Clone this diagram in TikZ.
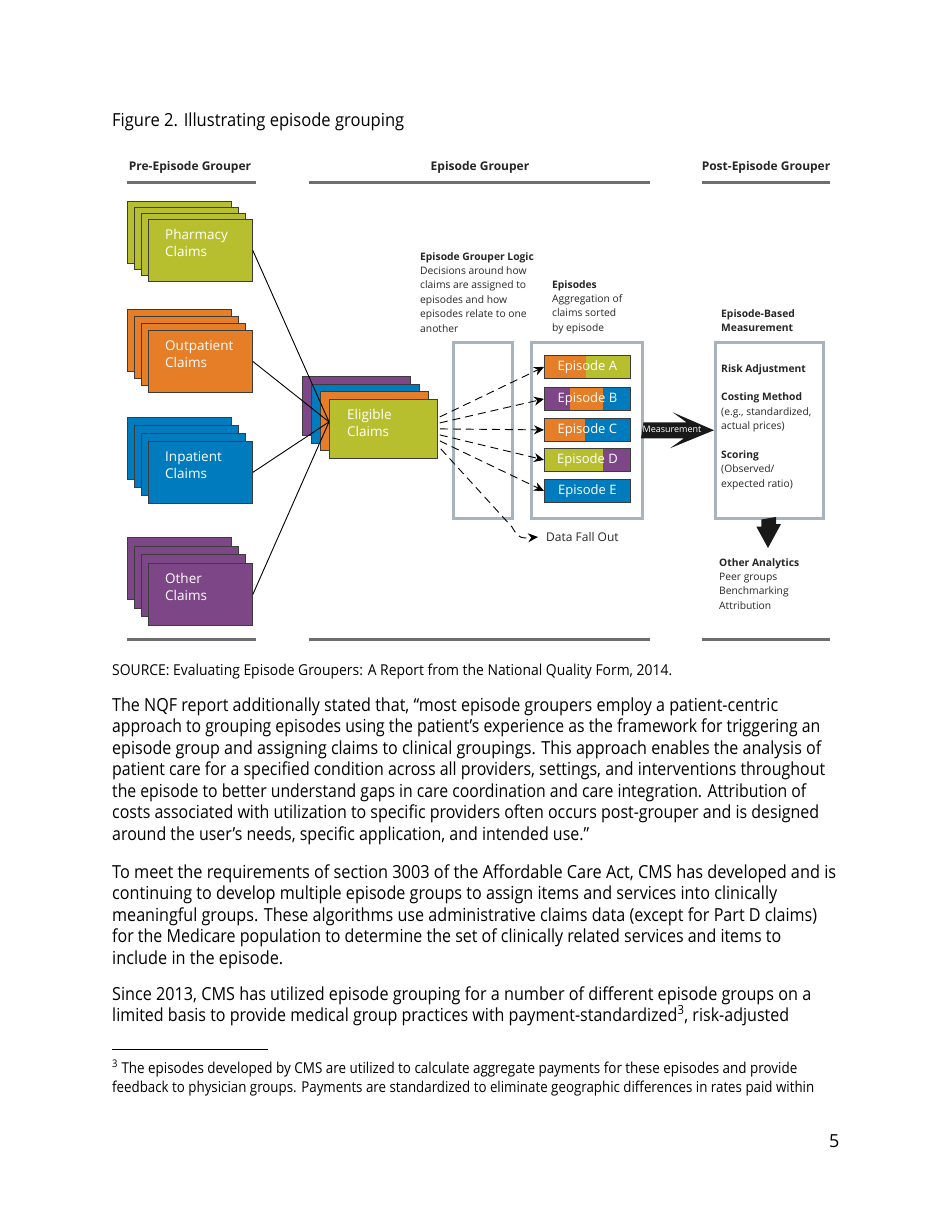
\documentclass[tikz,border=0pt]{standalone}
\usepackage{fontspec}
\setmainfont{Open Sans}
\usepackage{graphicx}
\usetikzlibrary{arrows.meta,calc}
\definecolor{cGreen}{RGB}{183,191,47}
\definecolor{cOrange}{RGB}{229,126,38}
\definecolor{cBlue}{RGB}{0,124,190}
\definecolor{cPurple}{RGB}{125,70,135}
\definecolor{cBorder}{RGB}{60,60,60}
\definecolor{cBoxGray}{RGB}{168,180,189}
\definecolor{cBar}{RGB}{109,110,113}
\newcommand\cardstack[6]{%
  \node[card,fill=#5] (#1a) at (#2,#3) {};
  \node[card,fill=#5] (#1b) at ({#2+7},{#3+#4}) {};
  \node[card,fill=#5] (#1c) at ({#2+14},{#3+2*#4}) {};
  \node[card,fill=#5] (#1d) at ({#2+21},{#3+3*#4}) {};
  \node[cardtxt] (#1t) at ($(#1d.north west)+(17,10)$) {#6};
}
\newcommand\bodyline[4]{\node[bodytxt] (#1) at (112,#2) {\resizebox{#3pt}{\height}{#4}};}
\newcommand\noteline[4]{\node[notetxt] (#1) at (112,#2) {\resizebox{#3pt}{\height}{#4}};}
\begin{document}
\begin{tikzpicture}[x=1pt,y=-1pt,
  card/.style={draw=cBorder,line width=0.8pt,anchor=north west,inner sep=0pt,minimum width=104pt,minimum height=62pt},
  ecard/.style={draw=cBorder,line width=0.8pt,anchor=north west,inner sep=0pt,minimum width=108pt,minimum height=59pt},
  cardtxt/.style={anchor=north west,inner sep=0pt,align=left,text=white,font=\fontsize{13.5}{17}\selectfont},
  gbox/.style={draw=cBoxGray,line width=2.5pt,anchor=north west,inner sep=0pt,minimum height=176pt},
  ep/.style={draw=cBorder,line width=0.8pt,anchor=north west,inner sep=0pt,minimum width=86pt,minimum height=23pt,text=white,font=\fontsize{13}{15}\selectfont},
  feed/.style={black,line width=0.9pt},
  dasharrow/.style={black,line width=0.9pt,dash pattern=on 8pt off 5pt,-{Stealth[length=10pt,width=9pt]}},
  hdr/.style={inner sep=0pt,font=\fontsize{12}{14}\selectfont\bfseries,text=black!85},
  bar/.style={cBar,line width=3pt},
  dtxt/.style={anchor=north west,inner sep=0pt,align=left,font=\fontsize{10.3}{14.4}\selectfont,text=black!85},
  bodytxt/.style={anchor=base west,inner sep=0pt,font=\fontsize{18}{21}\selectfont},
  notetxt/.style={anchor=base west,inner sep=0pt,font=\fontsize{15}{18}\selectfont}]
\useasboundingbox[fill=white] (0,0) rectangle (950,1230);

% title
\bodyline{title}{127}{292}{Figure 2. Illustrating episode grouping}

% headers and bars
\node[hdr] (hpre) at (190,167) {Pre-Episode Grouper};
\node[hdr] (hep) at (480,167) {Episode Grouper};
\node[hdr] (hpost) at (766,167) {Post-Episode Grouper};
\draw[bar] (127,183) -- (256,183);
\draw[bar] (309,183) -- (650,183);
\draw[bar] (702,183) -- (830,183);
\draw[bar] (127,639) -- (256,639);
\draw[bar] (309,639) -- (650,639);
\draw[bar] (702,639) -- (830,639);

% claim stacks
\cardstack{ph}{127}{201}{6}{cGreen}{Pharmacy\\Claims}
\cardstack{op}{127}{309}{7}{cOrange}{Outpatient\\Claims}
\cardstack{ip}{127}{417}{8}{cBlue}{Inpatient\\Claims}
\cardstack{ot}{127}{537}{8.7}{cPurple}{Other\\Claims}

% eligible stack
\node[ecard,fill=cPurple] (ela) at (302,376) {};
\node[ecard,fill=cBlue] (elb) at (311,384) {};
\node[ecard,fill=cOrange] (elc) at (320,391) {};
\node[ecard,fill=cGreen] (eld) at (329,399) {};
\node[cardtxt] (elt) at ($(eld.north west)+(18,10)$) {Eligible\\Claims};
\coordinate (hub) at ($(eld.west)+(0,-7)$);

\draw[feed] (phd.east) -- (hub);
\draw[feed] (opd.east) -- (hub);
\draw[feed] (ipd.east) -- (hub);
\draw[feed] (otd.east) -- (hub);

% boxes
\node[gbox,minimum width=59pt] (logic) at (452,341) {};
\node[gbox,minimum width=111pt] (epbox) at (530,341) {};
\node[gbox,minimum width=108pt] (mbox) at (714,341) {};

% episodes
\node[ep,fill=cGreen,path picture={\fill[cOrange] (path picture bounding box.north west) rectangle ++(42,23);}] (epA) at (544,355) {Episode A};
\node[ep,fill=cBlue,path picture={\fill[cPurple] (path picture bounding box.north west) rectangle ++(26,23);
   \fill[cOrange] ($(path picture bounding box.north west)+(26,0)$) rectangle ++(33,23);}] (epB) at (544,387) {Episode B};
\node[ep,fill=cBlue,path picture={\fill[cOrange] (path picture bounding box.north west) rectangle ++(41,23);}] (epC) at (544,418) {Episode C};
\node[ep,fill=cPurple,path picture={\fill[cGreen] (path picture bounding box.north west) rectangle ++(59,23);}] (epD) at (544,448) {Episode D};
\node[ep,fill=cBlue] (epE) at (544,479) {Episode E};

% dashed arrows
\draw[dasharrow] ($(eld.east)+(2,-12)$) -- (epA.west);
\draw[dasharrow] ($(eld.east)+(2,-6)$) -- (epB.west);
\draw[dasharrow] ($(eld.east)+(2,0)$) -- (epC.west);
\draw[dasharrow] ($(eld.east)+(2,6)$) -- (epD.west);
\draw[dasharrow] ($(eld.east)+(2,12)$) -- (epE.west);
\node[anchor=west,inner sep=0pt,font=\fontsize{12}{14}\selectfont,text=black!85] (dfo) at (546,537) {Data Fall Out};
\draw[dasharrow] ($(eld.east)+(3,20)$) -- (512,527) .. controls (516,534) and (519,538) .. (525,538) -- ([xshift=-8pt]dfo.west);

% measurement arrow
\fill[black!90] ($(epbox.east)+(0,-8)$) -- ++(43,0) -- ++(-14,-10) -- (mbox.west) -- ++(-44,18) -- ++(14,-10) -- ++(-43,0) -- cycle;
\node[inner sep=0pt,text=white,font=\fontsize{9}{10}\selectfont] (mlabel) at (672,429) {Measurement};

% down arrow
\coordinate (oatip) at (768,548);
\fill[black!90] ($(mbox.south)+(-8,0)$) -- ++(0,7) -- ++(-5,0) -- (oatip) -- ++(13,-24) -- ++(-5,0) -- ++(0,-7) -- cycle;

% diagram texts
\node[dtxt] (logictxt) at (420,252) {\textbf{Episode Grouper Logic}\\Decisions around how\\claims are assigned to\\episodes and how\\episodes relate to one\\another};
\node[dtxt] (eptxt) at (552,280) {\textbf{Episodes}\\Aggregation of\\claims sorted\\by episode};
\node[dtxt] (ebmtxt) at (721,309) {\textbf{Episode-Based}\\\textbf{Measurement}};
\node[dtxt] (mtxt) at (721,364) {\textbf{Risk Adjustment}\\[14.4pt]\textbf{Costing Method}\\(e.g., standardized,\\actual prices)\\[14.4pt]\textbf{Scoring}\\(Observed/\\expected ratio)};
\node[dtxt] (oatxt) at (719,558) {\textbf{Other Analytics}\\Peer groups\\Benchmarking\\Attribution};

% source
\noteline{src}{675}{560}{SOURCE: Evaluating Episode Groupers: A Report from the National Quality Form, 2014.}

% body
\bodyline{p1a}{711}{666}{The NQF report additionally stated that, “most episode groupers employ a patient-centric}
\bodyline{p1b}{732}{708}{approach to grouping episodes using the patient’s experience as the framework for triggering an}
\bodyline{p1c}{754}{709}{episode group and assigning claims to clinical groupings. This approach enables the analysis of}
\bodyline{p1d}{775}{713}{patient care for a specified condition across all providers, settings, and interventions throughout}
\bodyline{p1e}{797}{694}{the episode to better understand gaps in care coordination and care integration. Attribution of}
\bodyline{p1f}{818}{707}{costs associated with utilization to specific providers often occurs post-grouper and is designed}
\bodyline{p1g}{840}{477}{around the user’s needs, specific application, and intended use.”}

\bodyline{p2a}{878}{724}{To meet the requirements of section 3003 of the Affordable Care Act, CMS has developed and is}
\bodyline{p2b}{899}{665}{continuing to develop multiple episode groups to assign items and services into clinically}
\bodyline{p2c}{921}{705}{meaningful groups. These algorithms use administrative claims data (except for Part D claims)}
\bodyline{p2d}{942}{669}{for the Medicare population to determine the set of clinically related services and items to}
\bodyline{p2e}{964}{171}{include in the episode.}

\bodyline{p3a}{1000}{699}{Since 2013, CMS has utilized episode grouping for a number of different episode groups on a}
\bodyline{p3b}{1021}{677}{limited basis to provide medical group practices with payment-standardized\textsuperscript{3}, risk-adjusted}

% footnote
\draw[black,line width=0.8pt] (112,1049) -- (268,1049);
\noteline{fn1}{1073}{685}{\textsuperscript{3} The episodes developed by CMS are utilized to calculate aggregate payments for these episodes and provide}
\noteline{fn2}{1092}{702}{feedback to physician groups. Payments are standardized to eliminate geographic differences in rates paid within}

\node[bodytxt] (pnum) at (829,1147) {5};
\end{tikzpicture}
\end{document}
